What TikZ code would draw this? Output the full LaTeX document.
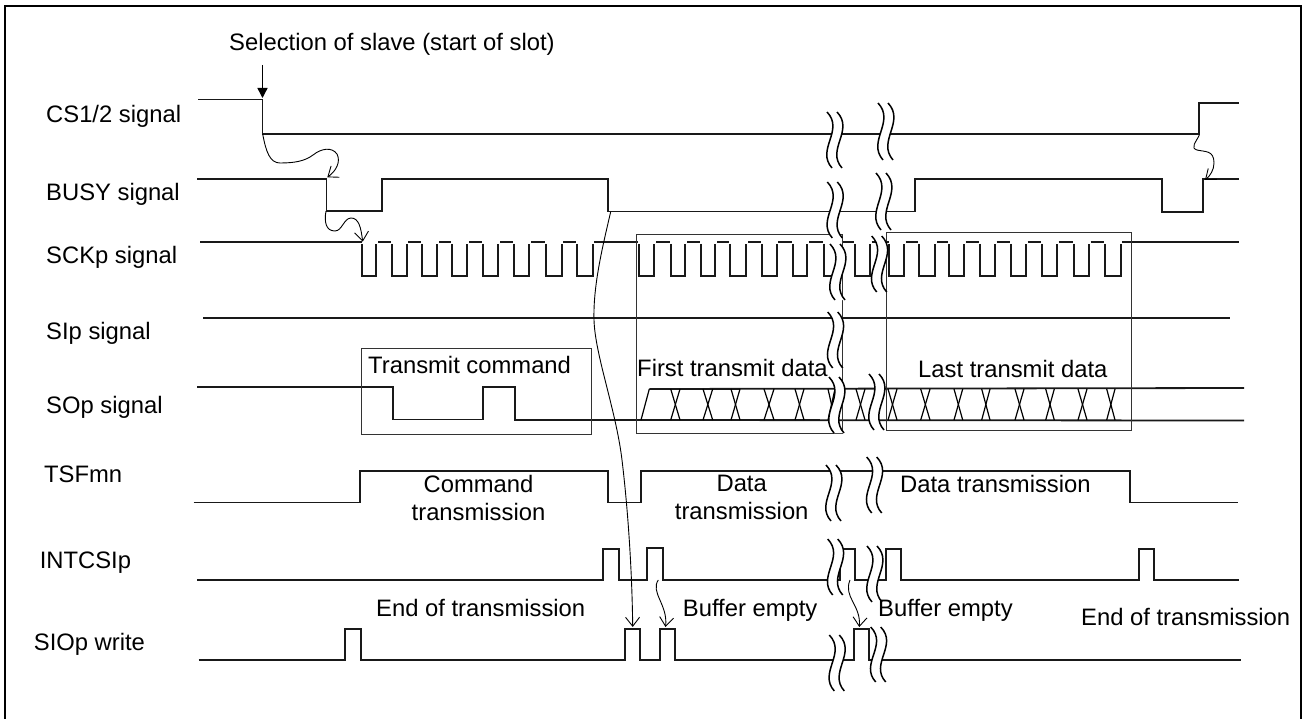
\documentclass[tikz,border=0pt]{standalone}
\usepackage{fontspec}
\setmainfont{Liberation Sans}
\usetikzlibrary{arrows.meta}
\tikzset{
  sig/.style={line width=1.8pt,draw=black!90,line join=miter},
  thinbox/.style={line width=1pt,draw=black!80},
  xover/.style={line width=1.2pt,draw=black},
  flow/.style={line width=0.9pt,draw=black,-{Straight Barb[length=9pt,width=14pt,line width=0.9pt]}},
  lbl/.style={inner sep=0pt,anchor=base west,font=\fontsize{23.8pt}{26pt}\selectfont,text=black},
  clbl/.style={inner sep=0pt,anchor=base,font=\fontsize{23.8pt}{26pt}\selectfont,text=black},
}
\newcommand{\brkmark}[3]{%
  \fill[white] (#1,#2) .. controls (#1+17.6,#2+.33*#3) and (#1-11.4,#2+.67*#3) .. (#1+5,#2+#3)
    -- (#1+15,#2+#3) .. controls (#1-1.4,#2+.67*#3) and (#1+27.6,#2+.33*#3) .. (#1+10,#2) -- cycle;
  \draw[line width=1.5pt,black] (#1,#2) .. controls (#1+17.6,#2+.33*#3) and (#1-11.4,#2+.67*#3) .. (#1+5,#2+#3);
  \draw[line width=1.5pt,black] (#1+10,#2) .. controls (#1+27.6,#2+.33*#3) and (#1-1.4,#2+.67*#3) .. (#1+15,#2+#3);
}
\begin{document}
\begin{tikzpicture}[x=1pt,y=-1pt]
\useasboundingbox (0,0) rectangle (1306,719);
\fill[white] (0,0) rectangle (1306,719);
% frame (open at the bottom edge of the page)
\draw[line width=2.6pt,black] (5,719) -- (5,6) -- (1301,6) -- (1301,719);

% CS
\draw[sig] (198,99.5) -- (262.5,99.5) -- (262.5,134) -- (1199,134) -- (1199,103) -- (1239,103);
% BUSY
\draw[sig] (197,179) -- (326.5,179) -- (326.5,211) -- (382,211) -- (382,179) -- (608,179) -- (608,211.5)
  -- (915,211.5) -- (915,179) -- (1161.7,179) -- (1161.7,212) -- (1203,212) -- (1203,179) -- (1239,179);
% SCK low pulses
\foreach \a/\b in {361.7/376,391.7/406.7,421.7/437.3,451.7/467.3,483.3/498.3,514/529.3,546/561.7,576.7/592.7,
  639.3/654.3,670.7/685,700.7/715,730/746,761.7/776.7,793/807,824/840,855/870,
  889.3/904,919.3/935,949/964,980/995,1010.7/1026,1042/1057,1074/1089,1105/1120.7}
  \draw[sig] (\a,244) -- (\a,275.7) -- (\b,275.7) -- (\b,244);
% SCK high segments
\foreach \a/\b in {200/362.4,378/390.5,408/420.5,439/450.5,469/482,500/512.8,531/544.8,563/575.5,594/638,
  656/669.5,687/699.5,717/729,748/760.5,778/791.8,809/822.8,841.5/854,871.5/888.5,
  905.5/918,937/948,965.5/979,996.5/1009.5,1027.5/1041,1058.5/1073,1090.5/1104,1122/1239}
  \draw[sig] (\a,242) -- (\b,242);
% SI
\draw[sig] (203,318) -- (1230,318);
% SO command
\draw[sig] (197,387) -- (393,387) -- (393,419.5) -- (483.3,419.5) -- (483.3,387) -- (514.7,387) -- (514.7,420) -- (641,420);
% SO data
\draw[sig] (649.3,389) -- (1244,388);
\draw[sig] (641,420) -- (1244,420.5);
\draw[xover] (641,420) -- (649.3,389);
\foreach \a/\b in {670.7/680,703/712.7,731/740,764/774,795/804,828/835,856/865,888/897,920.7/930,954/962.7,981.7/990,1015/1024,1045.7/1054.3,1078/1087,1106.7/1115}{
  \draw[xover] (\a,389) -- (\b,420);
  \draw[xover] (\b,389) -- (\a,420);
}
% TSF
\draw[sig] (193.6,502.5) -- (360,502.5) -- (360,471) -- (608,471) -- (608,502.5) -- (640.6,502.5) -- (640.6,471)
  -- (1130,471) -- (1130,502.5) -- (1238,502.5);
% INT
\draw[sig] (197,580) -- (603,580) -- (603,549) -- (618.7,549) -- (618.7,580) -- (647,580) -- (647,548) -- (662.7,548) -- (662.7,580)
  -- (840,580) -- (840,549) -- (855,549) -- (855,580) -- (885.7,580) -- (885.7,549) -- (901,549) -- (901,580)
  -- (1138.7,580) -- (1138.7,549) -- (1153.7,549) -- (1153.7,580) -- (1238.7,580);
% SIO
\draw[sig] (198.7,660) -- (345,660) -- (345,628.7) -- (360.7,628.7) -- (360.7,660) -- (625,660) -- (625,628.7) -- (640,628.7) -- (640,660)
  -- (660,660) -- (660,628.7) -- (675,628.7) -- (675,660) -- (854,660) -- (854,628.7) -- (869.3,628.7) -- (869.3,660) -- (1241,660);

% boxes
\draw[thinbox] (361,348.3) rectangle (591.7,434.3);
\draw[thinbox] (636,234.3) rectangle (842.7,433.3);
\draw[thinbox] (886.7,232.7) rectangle (1131,430);

% break marks
\brkmark{827}{112}{56}
\brkmark{878}{103}{57}
\brkmark{827.3}{182}{56}
\brkmark{876}{173}{57}
\brkmark{830}{244}{56}
\brkmark{871.7}{236}{56}
\brkmark{827.7}{312}{56}
\brkmark{829}{377}{56}
\brkmark{869}{374}{56}
\brkmark{826}{465}{56}
\brkmark{866.7}{457}{56}
\brkmark{827.7}{539}{56}
\brkmark{867}{546}{56}
\brkmark{829.3}{635}{56}
\brkmark{870.7}{627}{55}

% dependency arrows
\draw[line width=1.4pt,black,-{Triangle[length=10pt,width=10pt]}] (262.5,65) -- (262.5,98);
\draw[flow] (262.7,134) .. controls (266,152) and (270,163) .. (280,163)
  .. controls (295,163) and (305,161) .. (313,155)
  .. controls (322,148) and (332,147) .. (337,154)
  .. controls (341,162) and (336,171) .. (327.3,177.3);
\draw[flow] (326,211) .. controls (324,222) and (326,231) .. (335,231)
  .. controls (342,231) and (344,218) .. (351,218)
  .. controls (359,218) and (361,228) .. (362.7,241.7);
\draw[flow] (610.7,211.7) .. controls (603,245) and (593,285) .. (594,320)
  .. controls (595,355) and (616,410) .. (622,460)
  .. controls (628,510) and (632,570) .. (632.7,627);
\draw[flow] (658.3,580) .. controls (650,592) and (668,605) .. (665.5,627);
\draw[flow] (850,580) .. controls (843,597) and (861,605) .. (859.3,627);
\draw[flow] (1199.3,135) .. controls (1196,142) and (1190,148) .. (1197,150)
  .. controls (1205,152) and (1214,150) .. (1214,163)
  .. controls (1214,170) and (1210,176) .. (1205,180);

% texts
\node[lbl] (sel) at (229,51) {Selection of slave (start of slot)};
\node[lbl] (cs) at (46,123) {CS1/2 signal};
\node[lbl] (busy) at (46,201) {BUSY signal};
\node[lbl] (sck) at (46,263.5) {SCKp signal};
\node[lbl] (si) at (46,339) {SIp signal};
\node[lbl] (so) at (46,413) {SOp signal};
\node[lbl] (tsf) at (44,482) {TSFmn};
\node[lbl] (int) at (39.6,568) {INTCSIp};
\node[lbl] (sio) at (33.7,650) {SIOp write};
\node[lbl] (tc) at (368,373) {Transmit command};
\node[lbl] (ftd) at (637,376.5) {First transmit data};
\node[lbl] (ltd) at (918,377) {Last transmit data};
\node[clbl] (cmd1) at (478.5,492) {Command};
\node[clbl] (cmd2) at (478.5,520) {transmission};
\node[clbl] (dat1) at (741.7,491) {Data};
\node[clbl] (dat2) at (741.7,519) {transmission};
\node[lbl] (dat3) at (900,492) {Data transmission};
\node[lbl] (eot1) at (376,616) {End of transmission};
\node[lbl] (be1) at (682.7,616) {Buffer empty};
\node[lbl] (be2) at (878,616) {Buffer empty};
\node[lbl] (eot2) at (1081,625) {End of transmission};
\end{tikzpicture}
\end{document}
